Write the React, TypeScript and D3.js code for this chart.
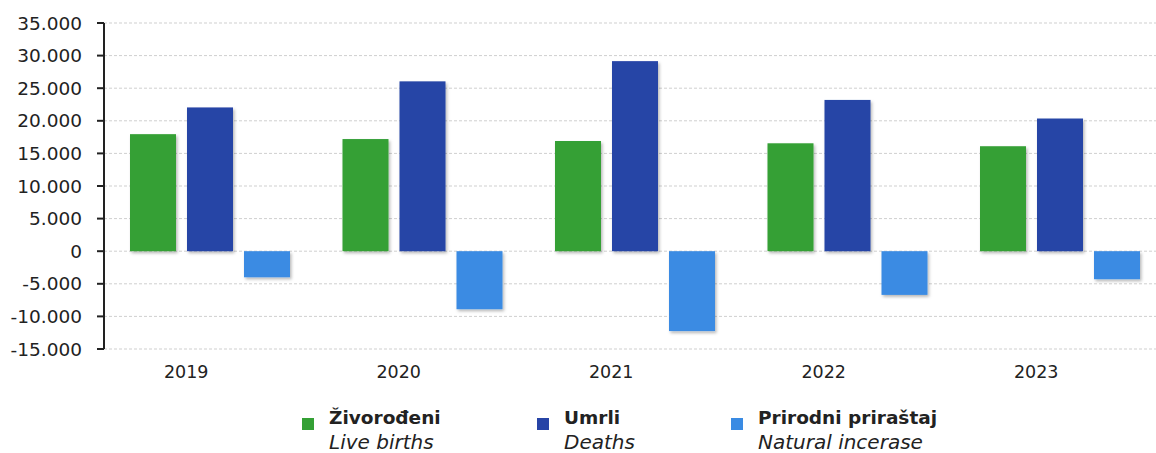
import { useMemo } from 'react'
import { scaleBand, scaleLinear } from 'd3'

const YEARS = ['2019', '2020', '2021', '2022', '2023']
const SERIES = ['births', 'deaths', 'natural']
const LIVE_BIRTHS = [17950, 17200, 16900, 16550, 16100]
const DEATHS = [22050, 26050, 29150, 23200, 20350]
const NATURAL_INCREASE = [-4000, -8900, -12250, -6700, -4300]
const Y_TICKS = [35000, 30000, 25000, 20000, 15000, 10000, 5000, 0, -5000, -10000, -15000]
const LEGEND_MAIN = ['Živorođeni', 'Umrli', 'Prirodni priraštaj']
const LEGEND_SUB = ['Live births', 'Deaths', 'Natural incerase']

const COLORS = ['#34a035', '#2744a6', '#3a8be3']
const FONT = '"DejaVu Sans", sans-serif'

const W = 1156
const H = 453
const LEFT = 104
const RIGHT = 1156

// 35000 -> "35.000" (dot thousands separator)
const fmt = (v: number) => {
  const s = Math.abs(v).toString().replace(/\B(?=(\d{3})+(?!\d))/g, '.')
  return v < 0 ? `-${s}` : s
}

export default function App() {
  const values = [LIVE_BIRTHS, DEATHS, NATURAL_INCREASE]

  const { x0, x1, y } = useMemo(() => {
    const x0 = scaleBand<string>().domain(YEARS).range([LEFT, LEFT + 212.5 * YEARS.length])
    const x1 = scaleBand<string>().domain(SERIES).range([26, 186]).paddingInner(0.193).paddingOuter(0)
    const y = scaleLinear().domain([-15000, 35000]).range([349, 23])
    return { x0, x1, y }
  }, [])

  const legendX = [302, 537, 731]

  return (
    <svg width={W} height={H} style={{ position: 'absolute', left: 0, top: 0 }} fontFamily={FONT}>
      <defs>
        <filter id="shadow" x="-20%" y="-20%" width="140%" height="140%">
          <feDropShadow dx="1.5" dy="2" stdDeviation="1.5" floodColor="#000" floodOpacity="0.28" />
        </filter>
      </defs>

      {/* gridlines */}
      {Y_TICKS.map((t) => (
        <line
          key={t}
          x1={LEFT}
          x2={RIGHT}
          y1={y(t)}
          y2={y(t)}
          stroke="#cfcfcf"
          strokeWidth={1}
          strokeDasharray="3 2"
        />
      ))}

      {/* bars */}
      {YEARS.map((yr, i) => (
        <g key={yr} transform={`translate(${x0(yr)},0)`}>
          {SERIES.map((s, j) => {
            const v = values[j][i]
            return (
              <rect
                key={s}
                x={x1(s)}
                width={x1.bandwidth()}
                y={Math.min(y(v), y(0))}
                height={Math.abs(y(v) - y(0))}
                fill={COLORS[j]}
                filter="url(#shadow)"
              />
            )
          })}
        </g>
      ))}

      {/* y axis */}
      <line x1={LEFT} x2={LEFT} y1={y(35000)} y2={y(-15000)} stroke="#222" strokeWidth={2} />
      {Y_TICKS.map((t) => (
        <g key={t}>
          <line x1={LEFT - 7} x2={LEFT} y1={y(t)} y2={y(t)} stroke="#222" strokeWidth={2} />
          <text x={82} y={y(t)} dy="0.36em" textAnchor="end" fontSize={18.5} fill="#222">
            {fmt(t)}
          </text>
        </g>
      ))}

      {/* year labels */}
      {YEARS.map((yr) => (
        <text
          key={yr}
          x={(x0(yr) ?? 0) + x0.bandwidth() / 2 - 24}
          y={378}
          textAnchor="middle"
          fontSize={17.5}
          fill="#222"
        >
          {yr}
        </text>
      ))}

      {/* legend */}
      {LEGEND_MAIN.map((name, i) => (
        <g key={name} transform={`translate(${legendX[i]},0)`}>
          <rect x={0} y={418} width={12} height={12} fill={COLORS[i]} />
          <text x={27} y={424} fontSize={18.5} fontWeight="bold" fill="#222">
            {name}
          </text>
          <text x={27} y={449} fontSize={20} fontStyle="italic" fill="#222">
            {LEGEND_SUB[i]}
          </text>
        </g>
      ))}
    </svg>
  )
}
